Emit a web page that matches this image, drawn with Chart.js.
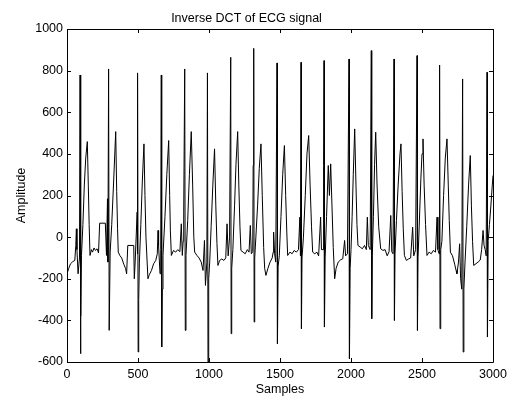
<!DOCTYPE html>
<html>
<head>
<meta charset="utf-8">
<script src="https://cdn.jsdelivr.net/npm/chart.js@4"></script>
<style>
  html, body { margin: 0; padding: 0; background: #fff; }
  #wrap { width: 507px; height: 397px; }
</style>
</head>
<body>
<div id="wrap"><canvas id="ch1"></canvas></div>
<script>

// sample positions
var sampleIdx = [
    0, 12, 25, 40, 55, 62, 66, 70, 78, 88, 92, 95, 98, 102, 112, 122, 132, 143, 150, 156,
    162, 172, 180, 190, 200, 212, 222, 230, 270, 278, 285, 288, 293, 297, 304, 315, 328, 343, 350, 356,
    361, 372, 385, 400, 412, 420, 428, 470, 474, 480, 494, 496, 498, 501, 505, 510, 520, 530, 542, 549,
    556, 570, 580, 595, 610, 625, 636, 641, 645, 655, 660, 664, 667, 671, 676, 690, 703, 716, 723, 728,
    735, 750, 765, 780, 795, 805, 812, 818, 822, 829, 833, 838, 850, 862, 875, 885, 893, 899, 915, 930,
    945, 958, 968, 975, 985, 989, 993, 998, 1005, 1015, 1027, 1039, 1048, 1056, 1063, 1075, 1090, 1105, 1118, 1127,
    1135, 1145, 1153, 1156, 1160, 1168, 1180, 1190, 1202, 1210, 1218, 1225, 1240, 1255, 1270, 1282, 1291, 1298, 1308, 1311,
    1315, 1318, 1322, 1330, 1342, 1354, 1366, 1375, 1385, 1392, 1401, 1415, 1430, 1445, 1452, 1455, 1462, 1470, 1479, 1482,
    1487, 1495, 1507, 1519, 1531, 1540, 1548, 1554, 1570, 1585, 1600, 1615, 1630, 1640, 1644, 1648, 1651, 1655, 1665, 1678,
    1690, 1702, 1712, 1722, 1730, 1745, 1760, 1772, 1786, 1792, 1804, 1807, 1810, 1813, 1818, 1828, 1840, 1848, 1857, 1866,
    1875, 1885, 1895, 1910, 1925, 1942, 1955, 1962, 1975, 1986, 1989, 1994, 2000, 2008, 2016, 2026, 2035, 2042, 2049, 2065,
    2080, 2095, 2108, 2115, 2122, 2135, 2143, 2146, 2150, 2158, 2166, 2174, 2183, 2195, 2209, 2225, 2240, 2255, 2268, 2280,
    2287, 2296, 2303, 2306, 2310, 2320, 2332, 2345, 2352, 2360, 2368, 2376, 2390, 2405, 2420, 2434, 2442, 2455, 2465, 2468,
    2472, 2480, 2492, 2500, 2507, 2515, 2525, 2535, 2550, 2565, 2580, 2595, 2606, 2612, 2620, 2624, 2627, 2632, 2640, 2652,
    2664, 2676, 2685, 2692, 2700, 2715, 2730, 2740, 2746, 2757, 2765, 2772, 2780, 2786, 2790, 2795, 2803, 2815, 2828, 2840,
    2848, 2856, 2864, 2880, 2895, 2910, 2920, 2930, 2937, 2945, 2952, 2958, 2961, 2966, 2975, 2985, 2995, 3000
];

// amplitude at each of those samples
var amplitude = [
    -176, -150, -128, -118, -112, -40, 40, -60, -176, -100, 779, -560, -380, -88, 60, 250, 380, 459, 250, 60,
    -88, -60, -72, -52, -64, -56, -76, 67, 67, -88, 184, -120, 808, -448, -72, 60, 260, 507, 220, 40,
    -72, -88, -100, -130, -150, -176, -40, -40, -200, -120, 120, -80, 789, -552, -300, -120, 60, 260, 448, 200,
    0, -200, -180, -160, -128, -112, -80, 32, -40, -176, -60, 779, -528, -250, -88, 100, 300, 464, 200, 30,
    -88, -64, -72, -60, -70, 64, -88, -20, 120, 808, -448, -88, 80, 300, 507, 250, 0, -72, -88, -100,
    -120, -160, -16, -232, -120, 789, -600, -200, -120, 50, 250, 424, 150, -30, -136, -112, -105, -112, -100, 64,
    -90, 0, 864, -464, -150, -60, 150, 350, 507, 250, 50, -64, -72, -80, -60, -72, 56, -80, -70, 344,
    907, -408, -100, 0, 150, 330, 448, 200, -50, -150, -184, -150, -120, -100, -72, 24, -80, -120, 837, -512,
    -140, -90, 100, 300, 440, 200, 20, -88, -72, -80, -64, -72, -60, 96, -90, 840, -440, -100, 0, 200,
    400, 488, 250, 50, -72, -80, -72, -90, 96, -60, -60, 344, 848, -432, -100, 100, 344, 200, 352, 150,
    -50, -200, -150, -120, -110, -104, -16, -90, -80, 856, -584, -150, -60, 100, 300, 520, 250, 60, -40, -48,
    -56, -40, -60, 96, -40, -60, 896, -392, -90, 100, 350, 504, 260, 50, -56, -64, -60, -90, -70, 104,
    -70, -80, 856, -400, -80, 80, 250, 400, 448, 220, 40, -88, -112, -105, -100, 48, -90, -60, 872, -448,
    -100, 50, 280, 400, 472, 250, 60, -88, -72, -80, -64, -72, 96, -60, -80, 827, -440, -60, -20, 200,
    380, 472, 250, 80, -72, -90, -130, -160, -176, -120, -32, -200, -250, 760, -552, -250, -120, 50, 250, 392,
    150, -20, -136, -128, -120, -110, -60, 32, -40, -60, -90, 792, -480, -16, 60, 150, 250, 296
];

// axis ticks
var xTicks = [0, 500, 1000, 1500, 2000, 2500, 3000];
var yTicks = [-600, -400, -200, 0, 200, 400, 600, 800, 1000];

Chart.defaults.font.family = "'Liberation Sans', Arial, sans-serif";
Chart.defaults.font.size = 12.5;
Chart.defaults.color = "#000";

// matlab style box with inward ticks on all four sides
var boxPlugin = {
    id: "boxTicks",
    afterDraw: function(chart) {
        var ctx = chart.ctx;
        var a = chart.chartArea;
        var sx = chart.scales.x;
        var sy = chart.scales.y;
        var len = 4;

        ctx.save();
        ctx.strokeStyle = "#000";
        ctx.lineWidth = 1;
        ctx.beginPath();
        ctx.rect(Math.round(a.left) + 0.5, Math.round(a.top) + 0.5,
                 Math.round(a.right - a.left), Math.round(a.bottom - a.top));

        xTicks.forEach(function(v) {
            var px = Math.round(sx.getPixelForValue(v)) + 0.5;
            ctx.moveTo(px, a.bottom);
            ctx.lineTo(px, a.bottom - len);
            ctx.moveTo(px, a.top);
            ctx.lineTo(px, a.top + len);
        });
        yTicks.forEach(function(v) {
            var py = Math.round(sy.getPixelForValue(v)) + 0.5;
            ctx.moveTo(a.left, py);
            ctx.lineTo(a.left + len, py);
            ctx.moveTo(a.right, py);
            ctx.lineTo(a.right - len, py);
        });
        ctx.stroke();
        ctx.restore();
    }
};

function plainLabel(v) {
    return String(v);
}

var points = sampleIdx.map(function(s, i) {
    return { x: s, y: amplitude[i] };
});

const ctx = document.getElementById("ch1");

new Chart(ctx, {
    type: "line",
    data: {
        datasets: [{
            label: "ECG",
            data: points,
            borderColor: "#000",
            borderWidth: 1,
            pointRadius: 0,
            tension: 0
        }]
    },
    options: {
        responsive: true,
        maintainAspectRatio: false,
        animation: false,
        layout: {
            padding: { left: 0, right: 14, top: 0, bottom: 0 }
        },
        scales: {
            x: {
                type: "linear",
                min: 0,
                max: 3000,
                afterBuildTicks: function(s) {
                    s.ticks = xTicks.map(function(v) { return { value: v }; });
                },
                afterFit: function(s) {
                    s.height = 35;
                    s.paddingLeft = 0;
                    s.paddingRight = 0;
                },
                grid: { display: false, drawTicks: false },
                border: { display: false },
                ticks: { padding: 5, maxRotation: 0, callback: plainLabel },
                title: {
                    display: true,
                    text: "Samples",
                    padding: { top: 0, bottom: 0 }
                }
            },
            y: {
                min: -600,
                max: 1000,
                afterBuildTicks: function(s) {
                    s.ticks = yTicks.map(function(v) { return { value: v }; });
                },
                afterFit: function(s) { s.width = 67; },
                grid: { display: false, drawTicks: false },
                border: { display: false },
                ticks: { padding: 4, callback: plainLabel },
                title: {
                    display: true,
                    text: "Amplitude",
                    padding: { top: 14, bottom: 0 }
                }
            }
        },
        plugins: {
            legend: { display: false },
            tooltip: { enabled: false },
            title: {
                display: true,
                text: "Inverse DCT of ECG signal",
                font: { size: 12.5, weight: "normal" },
                color: "#000",
                padding: { top: 11, bottom: 3 }
            }
        }
    },
    plugins: [boxPlugin]
});

</script>
</body>
</html>
